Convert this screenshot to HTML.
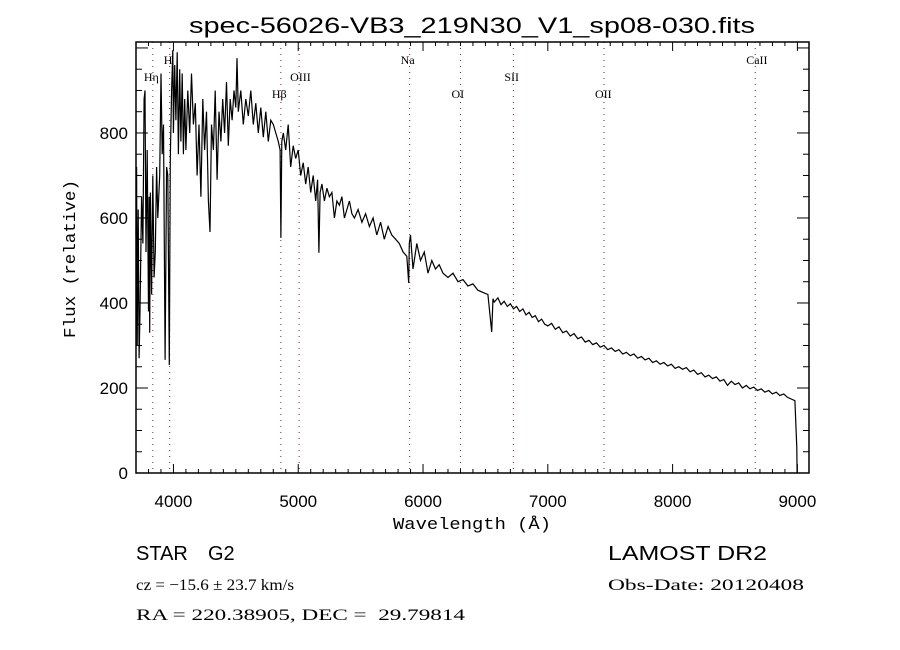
<!DOCTYPE html>
<html><head><meta charset="utf-8"><style>
body{margin:0;background:#fff}
svg{display:block}
text{fill:#000;white-space:pre}
</style></head><body>
<svg id="chart" width="900" height="650" xmlns="http://www.w3.org/2000/svg">
<rect width="900" height="650" fill="#fff"/>
<text x="472" y="33" font-family="Liberation Sans, sans-serif" font-size="22" text-anchor="middle" textLength="566" lengthAdjust="spacingAndGlyphs">spec-56026-VB3_219N30_V1_sp08-030.fits</text>
<g id="lines"></g>
<g id="spec"></g>
<g id="axes"></g>
<text x="472" y="529" font-family="Liberation Mono, monospace" font-size="17" text-anchor="middle" textLength="158" lengthAdjust="spacingAndGlyphs">Wavelength (Å)</text>
<text transform="translate(75,259) rotate(-90)" font-family="Liberation Mono, monospace" font-size="17" text-anchor="middle" textLength="158" lengthAdjust="spacingAndGlyphs">Flux (relative)</text>
<text x="136" y="560" font-family="Liberation Sans, sans-serif" font-size="20" xml:space="preserve">STAR</text>
<text x="208" y="560" font-family="Liberation Sans, sans-serif" font-size="20">G2</text>
<text x="136" y="590" font-family="Liberation Serif, serif" font-size="16" textLength="158" lengthAdjust="spacingAndGlyphs">cz = −15.6 ± 23.7 km/s</text>
<text x="136" y="620" font-family="Liberation Serif, serif" font-size="16" textLength="329" lengthAdjust="spacingAndGlyphs" xml:space="preserve">RA = 220.38905, DEC =  29.79814</text>
<text x="608" y="560" font-family="Liberation Sans, sans-serif" font-size="20" textLength="159" lengthAdjust="spacingAndGlyphs">LAMOST DR2</text>
<text x="608" y="590" font-family="Liberation Serif, serif" font-size="16" textLength="196" lengthAdjust="spacingAndGlyphs">Obs-Date: 20120408</text>
</svg>
<script>
const wave = [3700,3705,3710,3718,3725,3732,3745,3755,3765,3772,3780,3790,3800,3805,3810,3815,3825,3835,3845,3855,3865,3875,3890,3900,3910,3920,3933,3945,3955,3967,3975,3985,3995,4000,4010,4020,4030,4040,4050,4060,4070,4080,4090,4100,4115,4130,4145,4160,4175,4190,4205,4220,4235,4250,4265,4280,4293,4305,4320,4335,4350,4365,4380,4395,4410,4425,4440,4455,4470,4485,4500,4509,4520,4540,4560,4580,4600,4620,4640,4660,4680,4700,4720,4740,4760,4780,4800,4820,4840,4855,4861,4868,4880,4900,4920,4940,4960,4980,5000,5020,5040,5060,5080,5100,5120,5140,5155,5166,5175,5190,5210,5230,5250,5270,5290,5310,5330,5350,5370,5390,5410,5430,5450,5480,5510,5540,5570,5600,5630,5660,5690,5720,5750,5780,5810,5840,5870,5885,5890,5900,5920,5950,5980,6010,6040,6070,6100,6130,6160,6200,6240,6280,6320,6360,6400,6440,6480,6520,6550,6561,6570,6600,6625,6650,6675,6700,6725,6750,6775,6800,6825,6850,6875,6900,6925,6950,6975,7000,7030,7060,7090,7120,7150,7180,7210,7240,7270,7300,7330,7360,7390,7420,7450,7480,7510,7540,7570,7600,7630,7660,7690,7720,7750,7780,7810,7840,7870,7900,7930,7960,7990,8020,8050,8080,8110,8140,8170,8200,8230,8260,8290,8320,8350,8380,8410,8440,8470,8500,8530,8560,8590,8620,8650,8680,8710,8740,8770,8800,8830,8860,8890,8920,8950,8980,8995,8998,9000];
const flux = [560,720,300,620,270,380,650,540,880,900,520,760,380,650,330,660,420,700,460,520,720,600,700,940,750,820,266,720,700,254,740,900,995,800,960,830,990,750,950,780,940,750,880,760,900,800,940,820,870,700,820,650,880,760,850,640,567,820,760,900,690,850,780,880,800,920,770,880,830,900,860,976,850,900,820,880,840,900,820,870,800,860,790,850,780,830,820,800,780,760,553,780,800,760,820,720,770,740,760,700,730,680,720,660,700,640,690,518,660,680,640,670,650,660,600,640,630,650,600,620,640,610,600,620,590,610,580,600,560,590,550,580,560,550,540,520,510,447,540,560,480,540,500,520,470,500,480,490,470,460,470,450,455,440,445,430,425,420,332,410,402,412,396,404,392,398,386,392,380,386,372,378,366,370,356,362,350,346,352,338,344,330,334,322,328,316,320,308,312,302,306,296,300,290,294,286,290,280,284,276,280,270,274,266,270,260,264,256,260,252,256,246,250,244,248,238,242,232,236,226,230,222,226,216,220,206,216,208,212,200,206,198,202,194,198,190,194,186,190,182,186,178,174,170,60,0];
const lineNames = ["Hη","H","Hβ","OIII","Na","OI","SII","OII","CaII"];
const lineWaves = [3835,3970,4861,5007,5893,6300,6724,7450,8662];
const lineLabelLevel = [1,0,2,1,0,2,1,2,0];
const xTicks = [4000,5000,6000,7000,8000,9000];
const yTicks = [0,200,400,600,800];

const X0=136,X1=809,Y0=42,Y1=473, W0=3700, W1=9093, F0=0, F1=1014;
const sx = w => X0 + (w-W0)/(W1-W0)*(X1-X0);
const sy = f => Y1 - (f-F0)/(F1-F0)*(Y1-Y0);
const NS="http://www.w3.org/2000/svg";
function mk(tag, attrs, parent){const e=document.createElementNS(NS,tag);for(const k in attrs)e.setAttribute(k,attrs[k]);parent.appendChild(e);return e;}

const lines=document.getElementById('lines');
lineWaves.forEach((w,i)=>{
  const l=mk('line',{x1:sx(w),x2:sx(w),y1:Y0,y2:Y1,stroke:'#8b1a1a','stroke-width':1,'stroke-dasharray':'1,5'},lines);
  
  
  const ly=[60,77,94][lineLabelLevel[i]];
  const t=mk('text',{x:sx(w)-(lineNames[i]==="H"?6:9),y:ly+4,'font-family':'Liberation Serif, serif','font-size':12},lines);
  t.textContent=lineNames[i];
  
  
});

const spec=document.getElementById('spec');
let d='';
wave.forEach((w,i)=>{d+=(i?'L':'M')+sx(w).toFixed(1)+','+sy(flux[i]).toFixed(1);});
const p=mk('path',{d:d,fill:'none',stroke:'#000','stroke-width':1.2,'stroke-linejoin':'miter'},spec);



const ax=document.getElementById('axes');
const fr=mk('rect',{x:X0,y:Y0,width:X1-X0,height:Y1-Y0,fill:'none',stroke:'#000','stroke-width':1.5},ax);


for(let w=3800;w<=9000;w+=100){
  const maj=w%1000===0, len=maj?9:4;
  mk('line',{x1:sx(w),x2:sx(w),y1:Y1,y2:Y1-len,stroke:'#000'},ax);
  mk('line',{x1:sx(w),x2:sx(w),y1:Y0,y2:Y0+len,stroke:'#000'},ax);
}
for(let f=0;f<=1000;f+=50){
  const maj=f%200===0, len=maj?12:6;
  mk('line',{x1:X0,x2:X0+len,y1:sy(f),y2:sy(f),stroke:'#000'},ax);
  mk('line',{x1:X1,x2:X1-len,y1:sy(f),y2:sy(f),stroke:'#000'},ax);
}
xTicks.forEach(v=>{
  const t=mk('text',{x:sx(v),y:507,'text-anchor':'middle','font-family':'Liberation Sans, sans-serif','font-size':17},ax);
  t.textContent=v;
  
  
});
yTicks.forEach(v=>{
  const t=mk('text',{x:128,y:sy(v)+6,'text-anchor':'end','font-family':'Liberation Sans, sans-serif','font-size':17},ax);
  t.textContent=v;
  
  
});
</script>
</body></html>
